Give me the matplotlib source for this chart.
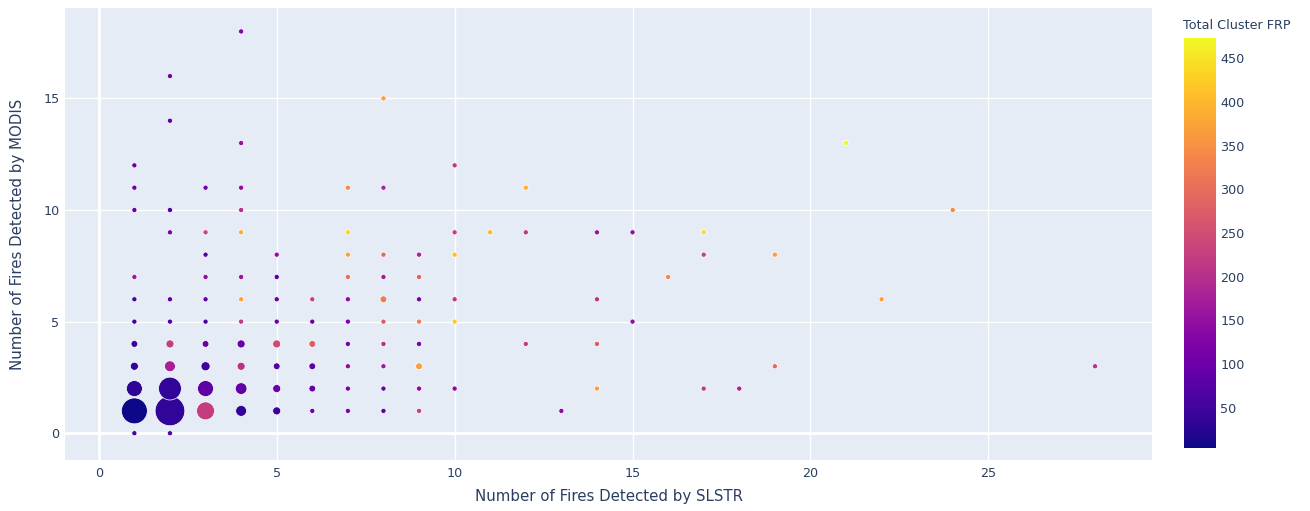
import numpy as np
import matplotlib
matplotlib.use("Agg")
import matplotlib.pyplot as plt

# fires per cluster: SLSTR count, MODIS count, number of clusters, total FRP
slstr = [1, 1, 1, 1, 1, 1, 1, 1, 1, 1, 1,
         2, 2, 2, 2, 2, 2, 2, 2, 2, 2, 2,
         3, 3, 3, 3, 3, 3, 3, 3, 3, 3,
         4, 4, 4, 4, 4, 4, 4, 4, 4, 4, 4, 4,
         5, 5, 5, 5, 5, 5, 5, 5,
         6, 6, 6, 6, 6, 6,
         7, 7, 7, 7, 7, 7, 7, 7, 7, 7,
         8, 8, 8, 8, 8, 8, 8, 8, 8, 8,
         9, 9, 9, 9, 9, 9, 9, 9,
         10, 10, 10, 10, 10, 10,
         11, 12, 12, 12, 13, 14, 14, 14, 14, 15, 15,
         16, 17, 17, 17, 18, 19, 19, 21, 22, 24, 28]
modis = [0, 1, 2, 3, 4, 5, 6, 7, 10, 11, 12,
         0, 1, 2, 3, 4, 5, 6, 9, 10, 14, 16,
         1, 2, 3, 4, 5, 6, 7, 8, 9, 11,
         1, 2, 3, 4, 5, 6, 7, 9, 10, 11, 13, 18,
         1, 2, 3, 4, 5, 6, 7, 8,
         1, 2, 3, 4, 5, 6,
         1, 2, 3, 4, 5, 6, 7, 8, 9, 11,
         1, 2, 3, 4, 5, 6, 7, 8, 11, 15,
         1, 2, 3, 4, 5, 6, 7, 8,
         2, 5, 6, 8, 9, 12,
         9, 4, 9, 11, 1, 2, 4, 6, 9, 5, 9,
         7, 2, 8, 9, 2, 3, 8, 13, 6, 10, 3]
counts = [1, 39, 14, 3, 2, 1, 1, 1, 1, 1, 1,
          1, 52, 30, 6, 3, 1, 1, 1, 1, 1, 1,
          18, 14, 4, 2, 1, 1, 1, 1, 1, 1,
          6, 7, 3, 3, 1, 1, 1, 1, 1, 1, 1, 1,
          3, 3, 2, 3, 1, 1, 1, 1,
          1, 2, 2, 2, 1, 1,
          1, 1, 1, 1, 1, 1, 1, 1, 1, 1,
          1, 1, 1, 1, 1, 2, 1, 1, 1, 1,
          1, 1, 2, 1, 1, 1, 1, 1,
          1, 1, 1, 1, 1, 1,
          1, 1, 1, 1, 1, 1, 1, 1, 1, 1, 1,
          1, 1, 1, 1, 1, 1, 1, 1, 1, 1, 1]
frp = [65, 4, 30, 35, 45, 55, 60, 165, 95, 100, 100,
       70, 35, 35, 175, 225, 65, 85, 120, 60, 90, 115,
       225, 85, 45, 100, 60, 90, 145, 80, 240, 110,
       35, 85, 205, 100, 215, 375, 155, 385, 200, 145, 150, 125,
       45, 100, 75, 245, 100, 90, 70, 150,
       105, 90, 85, 275, 95, 230,
       120, 115, 145, 110, 120, 140, 300, 370, 430, 340,
       90, 100, 165, 200, 270, 320, 170, 290, 185, 370,
       230, 140, 370, 110, 320, 110, 280, 180,
       140, 420, 220, 410, 230, 215,
       400, 220, 215, 390, 140, 370, 270, 210, 155, 150, 150,
       340, 220, 230, 440, 180, 290, 370, 473, 370, 340, 205]

W, H, DPI = 1310, 511, 100
TXT = "#2a3f5f"

fig = plt.figure(figsize=(W / DPI, H / DPI), dpi=DPI)
ax = fig.add_axes([65 / W, (H - 460) / H, (1152 - 65) / W, (460 - 8) / H])
ax.set_facecolor("#E5ECF6")
for s in ax.spines.values():
    s.set_visible(False)

# bubble area proportional to number of clusters, largest ~29 px across
diam_px = 28.5 * np.sqrt(np.array(counts) / max(counts)) + 1.2
sizes = (diam_px * 72 / DPI) ** 2

ax.set_axisbelow(True)
ax.grid(color="white", linewidth=1)
ax.axhline(0, color="white", linewidth=2, zorder=1)
ax.axvline(0, color="white", linewidth=2, zorder=1)

sc = ax.scatter(slstr, modis, s=sizes, c=frp, cmap="plasma",
                vmin=min(frp), vmax=max(frp),
                edgecolors="white", linewidths=0.5, zorder=3)

ax.set_xlim(-0.95, 29.6)
ax.set_ylim(-1.2, 19.05)
ax.set_xticks([0, 5, 10, 15, 20, 25])
ax.set_yticks([0, 5, 10, 15])
ax.tick_params(length=0, labelsize=9.2, labelcolor=TXT)
ax.tick_params(axis="x", pad=5)
ax.tick_params(axis="y", pad=4)

fig.text(609 / W, (H - 496) / H, "Number of Fires Detected by SLSTR",
         ha="center", va="center", fontsize=10.8, color=TXT)
fig.text(18 / W, (H - 234) / H, "Number of Fires Detected by MODIS",
         ha="center", va="center", rotation=90, fontsize=10.8, color=TXT)

cax = fig.add_axes([1184 / W, (H - 448) / H, 32 / W, (448 - 38) / H])
cb = fig.colorbar(sc, cax=cax)
cb.outline.set_visible(False)
cb.set_ticks([50, 100, 150, 200, 250, 300, 350, 400, 450])
cax.tick_params(length=0, labelsize=9.2, labelcolor=TXT, pad=3)
fig.text(1183 / W, (H - 25) / H, "Total Cluster FRP",
         ha="left", va="center", fontsize=9.2, color=TXT)

fig.savefig("out.png", dpi=DPI)
